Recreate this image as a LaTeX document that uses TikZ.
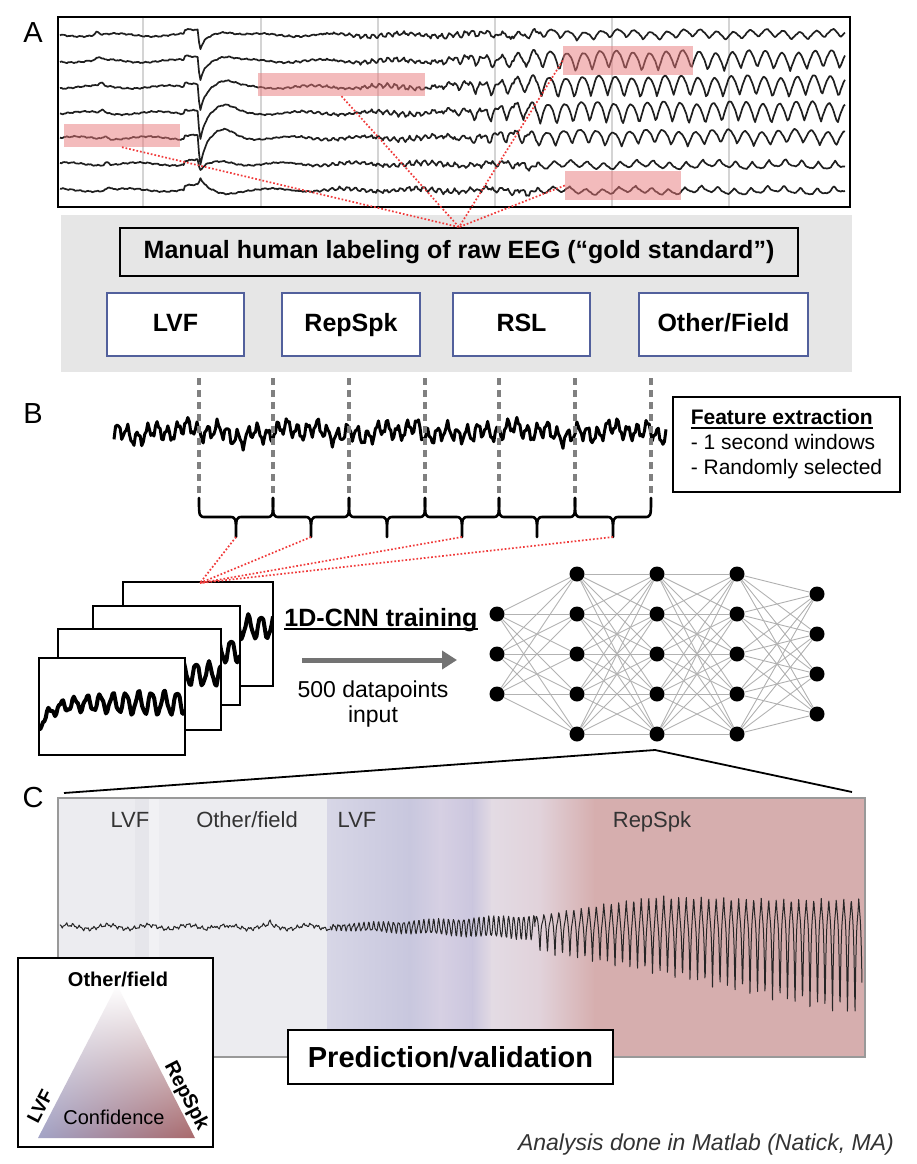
\documentclass[tikz,border=0pt]{standalone}
\usepackage{fontspec}
\setmainfont{Liberation Sans}
\usetikzlibrary{arrows.meta,shadings}

\definecolor{panelgray}{HTML}{E6E6E6}
\definecolor{boxblue}{HTML}{52609C}
\definecolor{hlred}{HTML}{E8787A}
\definecolor{dotred}{HTML}{F03A3A}
\definecolor{gridgray}{HTML}{D4D4D4}
\definecolor{bgray}{HTML}{ECECF0}
\definecolor{bgrayl}{HTML}{F1F1F4}
\definecolor{bgrayd}{HTML}{E6E6EB}
\definecolor{blav}{HTML}{D7D6E6}
\definecolor{blavd}{HTML}{C8C7DE}
\definecolor{bpurl}{HTML}{D6D0E3}
\definecolor{bpurd}{HTML}{CBC6DE}
\definecolor{bpink}{HTML}{E3DBE4}
\definecolor{bpinkd}{HTML}{E1D2DA}
\definecolor{brose}{HTML}{D6AEAE}
\definecolor{trilav}{HTML}{A2A3C6}
\definecolor{trired}{HTML}{A9696B}

\newcommand\thickul[1]{\setbox0\hbox{#1}\rlap{\rule[-4pt]{\wd0}{2pt}}\box0}

\begin{document}
\begin{tikzpicture}[x=1pt, y=-1pt,
  declare function={
    sn(\tv,\fv,\pv)=sin(\fv*mod(\tv,360/\fv)+\pv);
    gs(\tv,\cv,\wv)=exp(-min(abs(\tv-\cv)/\wv,3)*min(abs(\tv-\cv)/\wv,3));
    art(\tv)=(\tv>=200)*exp(-min(abs(\tv-200)/5,8))+(\tv<200)*gs(\tv,200,1.2)-0.25*gs(\tv,224,14);
    env(\tv)=min(max((\tv-420)/120,0),1);
    fast(\tv)=(\tv>270)*(\tv<540)*min((\tv-270)/120,1);
    eega(\tv,\yv,\av,\dv,\kv)=\yv+0.5*sn(\tv,43,61*\kv)+0.3*sn(\tv,103,37*\kv)+1.5*sn(\tv,5,50*\kv)
      +fast(\tv)*(1.8*sn(\tv,47,20*\kv)+0.8*sn(\tv,113,9*\kv))+\dv*art(\tv)-4*(\tv>184)*(\tv<199)
      -3*gs(\tv,95+2*\kv,3)+\av*env(\tv)*(0.5-abs(sn(\tv,10.9,13*\kv)));
    eegb(\tv)=432+7*sn(\tv,36,0)+3*sn(\tv,89,40)+4*sn(\tv,11,20)+3*sn(\tv,3.3,10)
      +8*gs(\tv,245,3)+6*gs(\tv,425,4)+6*gs(\tv,640,3)-6*gs(\tv,465,4);
    frw(\tv)=45+24*exp(-\tv/12)+(4+7*min(\tv/100,1))*sn(\tv,28,0)+2*sn(\tv,71,0);
    ca(\tv)=927+1.4*sn(\tv,53,0)+1.1*sn(\tv,117,30)+2*sn(\tv,9,15)-4*gs(\tv,212,1.5)+3*gs(\tv,229,1.5)-3*gs(\tv,270,2);
    cb(\tv)=927+(2+0.0488*(\tv-330))*sn(\tv,72,0)+1.5*sn(\tv,150,20);
    spd(\tv)=1-abs(sn(\tv,24,0));
    spu(\tv)=1-abs(sn(\tv,24,90));
    cc(\tv)=922-(6+19*min((\tv-535)/120,1))*spu(\tv)*spu(\tv)+(30+0.2*(\tv-535))*spd(\tv)*spd(\tv)+1.5*sn(\tv,97,0);
  },
  trace/.style={black!88, line width=1.7pt, line join=round},
  hlbox/.style={fill=hlred, fill opacity=0.5, inner sep=0pt},
  reddots/.style={dotred, dotted, line width=1.7pt},
  labelbox/.style={draw=boxblue, line width=1.8pt, fill=white, minimum height=63pt, inner sep=0pt,
    text height=18pt, text depth=5pt, font=\fontsize{25}{30}\selectfont\bfseries},
  plainbox/.style={draw=black, line width=1.8pt},
  panel/.style={font=\fontsize{29}{34}\selectfont, anchor=base},
  neuron/.style={circle, fill=black, minimum size=15pt, inner sep=0pt},
  synapse/.style={black!30, line width=0.9pt},
  bracepath/.style={line width=2.6pt, line join=round, line cap=round},
  winline/.style={black!50, line width=4pt, dash pattern=on 7pt off 5pt},
  framebox/.style={draw=black, line width=1.6pt, fill=white},
  bandtext/.style={black!80, inner sep=0pt, font=\fontsize{22}{26}\selectfont, anchor=base},
  legtext/.style={inner sep=0pt, font=\fontsize{20}{24}\selectfont\bfseries},
]
\useasboundingbox (0,0) rectangle (916,1164);

\node[panel] (la) at (33,43) {A};
\draw[fill=white, line width=2pt] (58,17) rectangle (850,207);
\foreach \gx in {143,261,378,495,612,729}
  \draw[gridgray, line width=1.2pt] (\gx,18) -- (\gx,206);
\foreach \ch/\yb/\am/\dp in {1/35/8/16, 2/61/18/20, 3/87/20/24, 4/113/20/28, 5/138/14/30, 6/164/-7/8, 7/190/-6/-12}
  \draw[trace] plot[domain=60:845, samples=560] (\x,{eega(\x,\yb,\am,\dp,\ch)});
\node[hlbox, minimum width=116pt, minimum height=23pt] (hl1) at (122,135.5) {};
\node[hlbox, minimum width=167pt, minimum height=23pt] (hl2) at (341.5,84.5) {};
\node[hlbox, minimum width=130pt, minimum height=29pt] (hl3) at (628,60.5) {};
\node[hlbox, minimum width=116pt, minimum height=29pt] (hl4) at (623,185.5) {};

\fill[panelgray] (61,215) rectangle (852,372);
\node[plainbox, fill=panelgray, minimum width=678pt, minimum height=48pt, inner sep=0pt,
  font=\fontsize{25}{30}\selectfont\bfseries] (manual) at (459,252) {Manual human labeling of raw EEG (“gold standard”)};
\foreach \h/\an in {hl1/south, hl2/south, hl3/west, hl4/west}
  \draw[reddots] (\h.\an) -- (manual.north);
\node[labelbox, minimum width=137pt] (lvf) at (175.5,324.5) {LVF};
\node[labelbox, minimum width=138pt] (repspk) at (351,324.5) {RepSpk};
\node[labelbox, minimum width=137pt] (rsl) at (521.5,324.5) {RSL};
\node[labelbox, minimum width=169pt] (other) at (723.5,324.5) {Other/Field};

\node[panel] (lb) at (33,423) {B};
\draw[black, line width=3pt, line join=round] plot[domain=114:666, samples=360] (\x,{eegb(\x)});
\foreach \wx in {199,273,349,425,499,575,651}
  \draw[winline] (\wx,378) -- (\wx,497);
\node[plainbox, fill=white, minimum width=227pt, minimum height=95pt, inner sep=0pt, align=left,
  font=\fontsize{21}{25}\selectfont] (feat) at (786.5,444.5) {\thickul{\textbf{Feature extraction}}\\- 1 second windows\\- Randomly selected};
\foreach \xa/\xb [count=\i] in {199/273, 273/349, 349/425, 425/499, 499/575, 575/651} {
  \pgfmathsetmacro\xm{(\xa+\xb)/2}
  \draw[bracepath] (\xa,498) .. controls (\xa,517) .. (\xa+7,517) -- (\xm-7,517)
    .. controls (\xm,517) .. (\xm,537) .. controls (\xm,517) .. (\xm+7,517)
    -- (\xb-7,517) .. controls (\xb,517) .. (\xb,498);
  \coordinate (tip\i) at (\xm,537);
}

\foreach \i/\xa/\ya/\xb/\yb in {4/123/582/273/686, 3/93/606/240/705, 2/58/629/221/730, 1/39/658/185/755} {
  \pgfmathsetmacro\fw{\xb-\xa}
  \draw[framebox] (\xa,\ya) rectangle (\xb,\yb);
  \begin{scope}
    \clip (\xa,\ya) rectangle (\xb,\yb);
    \draw[line width=4pt, line join=round] plot[domain=0:\fw, samples=110] ({\xa+\x},{\ya+frw(\x)});
  \end{scope}
  \draw[line width=1.6pt] (\xa,\ya) rectangle (\xb,\yb);
}
\coordinate (stack) at (200,583);
\foreach \t in {1,2,4,6}
  \draw[reddots] (tip\t) -- (stack);

\node[anchor=base, inner sep=0pt, font=\fontsize{25}{30}\selectfont\bfseries] (cnn) at (381,626) {\thickul{1D-CNN training}};
\coordinate (arrs) at (302,660);
\coordinate (arre) at (457,660);
\draw[-{Triangle[length=15pt,width=18pt]}, line width=5pt, black!55] (arrs) -- (arre);
\node[inner sep=0pt, align=center, font=\fontsize{23}{25}\selectfont] (dp) at (373,704) {500 datapoints\\input};

\foreach \p/\lx/\nn/\ly in {1/497/3/614, 2/577/5/574, 3/657/5/574, 4/737/5/574, 5/817/4/594}
  \foreach \i in {1,...,\nn}
    \node[neuron] (n\p-\i) at (\lx,{\ly+40*(\i-1)}) {};
\foreach \p/\np/\q/\nq in {1/3/2/5, 2/5/3/5, 3/5/4/5, 4/5/5/4}
  \foreach \i in {1,...,\np}
    \foreach \j in {1,...,\nq}
      \draw[synapse] (n\p-\i) -- (n\q-\j);

\coordinate (apex) at (655,750);
\coordinate (zl) at (64,793);
\coordinate (zr) at (852,792);
\draw[line width=1.8pt] (zl) -- (apex) -- (zr);

\node[panel] (lc) at (33,807) {C};
\foreach \xa/\xb/\ca/\cb in {58/136/bgray/bgray, 136/150/bgrayd/bgrayd, 150/160/bgrayl/bgrayl, 160/328/bgray/bgray,
    328/410/blav/blavd, 410/440/blavd/bpurl, 440/473/bpurl/bpurd, 473/492/bpurd/bpink, 492/540/bpink/bpinkd,
    540/595/bpinkd/brose, 595/865/brose/brose}
  \shade[left color=\ca, right color=\cb] (\xa-0.5,798) rectangle (\xb+0.5,1057);
\node[bandtext] (clvf) at (130,827) {LVF};
\node[bandtext] (cother) at (247,827) {Other/field};
\node[bandtext] (clvf2) at (357,827) {LVF};
\node[bandtext] (crep) at (652,827) {RepSpk};
\draw[black!85, line width=1pt, line join=round] plot[domain=60:330, samples=240] (\x,{ca(\x)});
\draw[black!85, line width=1pt, line join=round] plot[domain=330:535, samples=320] (\x,{cb(\x)});
\draw[black!85, line width=1pt, line join=round] plot[domain=535:862, samples=900] (\x,{cc(\x)});
\draw[black!40, line width=1.2pt] (58,798) rectangle (865,1057);

\node[plainbox, fill=white, minimum width=195pt, minimum height=189pt, inner sep=0pt] (legend) at (115.5,1052.5) {};
\shade[upper left=white, upper right=white, lower left=trilav, lower right=trired] (117,985) -- (38,1138) -- (195,1138) -- cycle;
\node[legtext, anchor=base] (tfield) at (118,986) {Other/field};
\node[legtext, font=\fontsize{19}{23}\selectfont\bfseries, rotate=62.7] (tlvf) at (40,1106) {LVF};
\node[legtext, rotate=-62.7] (trep) at (186,1096) {RepSpk};
\node[anchor=base, inner sep=0pt, font=\fontsize{20}{24}\selectfont] (tconf) at (114,1124) {Confidence};

\node[plainbox, fill=white, minimum width=325pt, minimum height=54pt, inner sep=0pt,
  font=\fontsize{29}{34}\selectfont\bfseries] (pred) at (450.5,1057) {Prediction/validation};
\node[anchor=base east, inner sep=0pt, black!80, font=\fontsize{23}{27}\selectfont\itshape] (matlab) at (894,1150) {Analysis done in Matlab (Natick, MA)};
\end{tikzpicture}
\end{document}
